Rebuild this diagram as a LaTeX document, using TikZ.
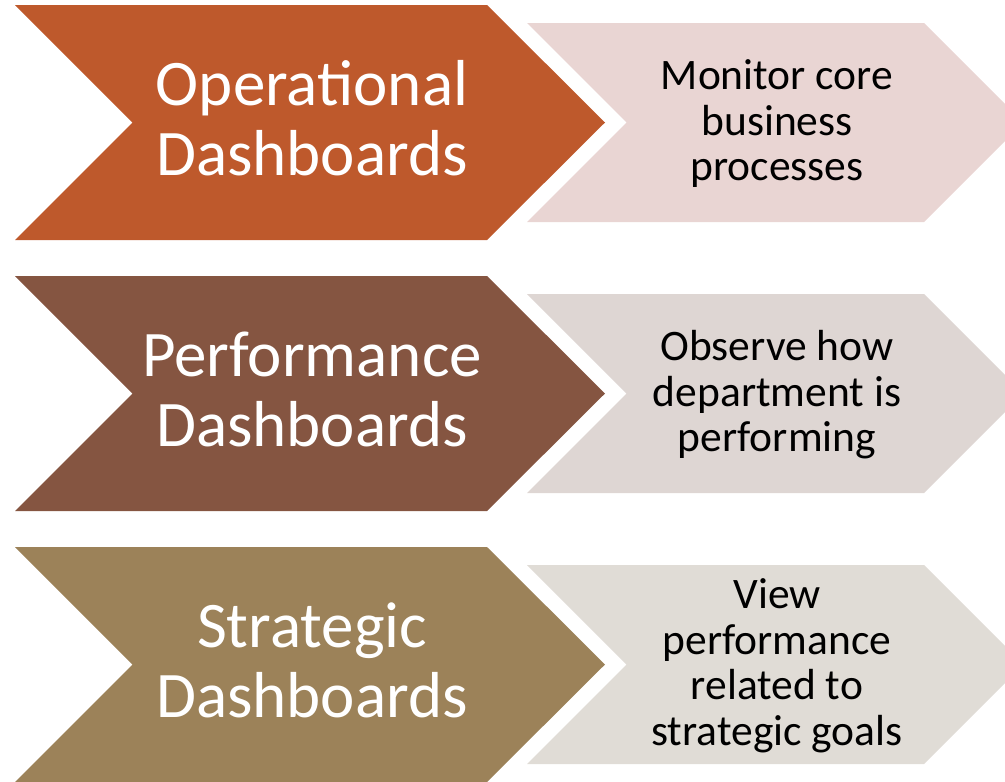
\documentclass[tikz,border=0pt]{standalone}
\usepackage{fontspec}
\setmainfont{Carlito}
\definecolor{opc}{RGB}{190,89,44}
\definecolor{perfc}{RGB}{133,85,65}
\definecolor{stratc}{RGB}{156,130,89}
\definecolor{lighta}{RGB}{233,213,211}
\definecolor{lightb}{RGB}{222,214,211}
\definecolor{lightc}{RGB}{224,220,214}
\tikzset{
  bigtext/.style={align=center, text=white, inner sep=0pt, font=\fontsize{65}{70}\selectfont},
  smalltext/.style={align=center, text=black, inner sep=0pt, font=\fontsize{43.5}{45.5}\selectfont},
}
\begin{document}
\begin{tikzpicture}[x=1pt,y=-1pt]
\useasboundingbox (0,0) rectangle (1005,782);
\clip (0,0) rectangle (1005,782);
% chevrons
\foreach \c/\dark/\light in {122.5/opc/lighta, 393.5/perfc/lightb, 664.5/stratc/lightc}{
  \fill[\dark] (15,\c-117.5) -- (487,\c-117.5) -- (605,\c) -- (487,\c+117.5)
        -- (15,\c+117.5) -- (132.5,\c) -- cycle;
  \fill[\light] (527,\c-99.5) -- (924,\c-99.5) -- (1023.5,\c) -- (924,\c+99.5)
        -- (527,\c+99.5) -- (626.5,\c) -- cycle;
}
% texts
\node[bigtext] (op) at (312,118) {Operational\\Dashboards};
\node[bigtext] (perf) at (312,389) {Performance\\Dashboards};
\node[bigtext] (strat) at (312,660) {Strategic\\Dashboards};
\node[smalltext] (opd) at (777,124) {Monitor core\\business\\processes};
\node[smalltext] (perfd) at (777,395) {Observe how\\department is\\performing};
\node[smalltext] (stratd) at (777,666) {View\\performance\\related to\\strategic goals};
\end{tikzpicture}
\end{document}
